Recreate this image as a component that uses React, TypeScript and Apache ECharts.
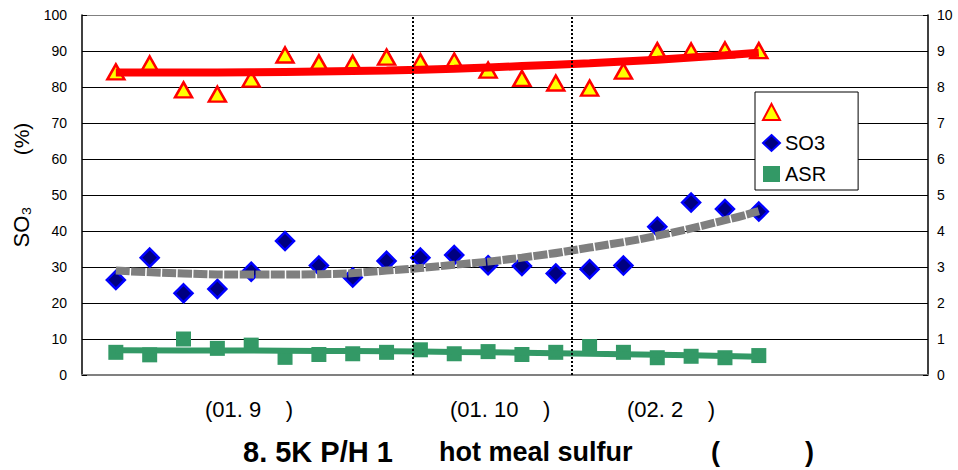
import React, { useEffect, useRef } from "react";
import * as echarts from "echarts";

// sample positions along the x axis (axis runs 0..25)
const sampleIndex = [1, 2, 3, 4, 5, 6, 7, 8, 9, 10, 11, 12, 13, 14, 15, 16, 17, 18, 19, 20];
const triangleValues = [84.2, 86.4, 79.2, 78.0, 82.2, 88.9, 86.7, 86.6, 88.3, 87.0, 87.2, 84.7, 82.4, 81.1, 79.7, 84.4, 90.1, 90.0, 90.3, 90.1];
const so3Values = [26.4, 32.6, 22.7, 23.9, 28.7, 37.2, 30.4, 27.1, 31.7, 32.6, 33.3, 30.5, 30.3, 28.2, 29.4, 30.4, 41.2, 47.9, 46.1, 45.4];
const asrValues = [0.63, 0.56, 1.0, 0.74, 0.83, 0.49, 0.57, 0.59, 0.63, 0.7, 0.59, 0.65, 0.57, 0.63, 0.79, 0.63, 0.48, 0.52, 0.48, 0.54];

// trend lines
const trendIndex = [1, 3, 5, 7, 9, 11, 13, 15, 17, 19, 20];
const triangleTrend = [84.0, 84.0, 84.1, 84.3, 84.6, 85.1, 85.8, 86.6, 87.6, 88.8, 89.5];
const so3Trend = [29.0, 28.2, 27.9, 28.0, 29.0, 30.6, 32.6, 35.4, 38.7, 43.0, 45.5];
const asrTrend = [0.69, 0.68, 0.68, 0.67, 0.66, 0.64, 0.62, 0.59, 0.56, 0.53, 0.51];

// period dividers
const dividers = [9.78, 14.46];
const periodLabels = ["(01. 9    )", "(01. 10    )", "(02. 2    )"];
const leftTicks = [0, 100, 10];
const rightTicks = [0, 10, 1];

const FONT = "Liberation Sans, Arial, sans-serif";

export default function App() {
  const ref = useRef<HTMLDivElement>(null);
  useEffect(() => {
    document.body.style.margin = "0";
    if (!ref.current) return;
    const chart = echarts.init(ref.current, undefined, { renderer: "svg" });
    const pair = (xs: number[], ys: number[]) => xs.map((x, i) => [x, ys[i]]);
    const splitColors = ["#808080"];
    for (let i = 0; i < 9; i++) splitColors.push("#000000");
    splitColors.push("#808080");

    const txt = (text: string, x: number, y: number, size: number, bold = false, spacing = 0) => ({
      type: "text",
      x,
      y,
      style: {
        text,
        fontSize: size,
        fontWeight: bold ? "bold" : "normal",
        fontFamily: FONT,
        fill: "#000",
        align: "left",
        verticalAlign: "middle",
      },
    });

    chart.setOption({
      animation: false,
      backgroundColor: "#ffffff",
      textStyle: { fontFamily: FONT },
      grid: { left: 82, right: 30, top: 15, bottom: 95, containLabel: false },
      legend: {
        orient: "vertical",
        left: 755,
        top: 92,
        padding: [10, 32, 6, 7],
        itemGap: 11,
        itemWidth: 17,
        itemHeight: 16,
        borderColor: "#000",
        borderWidth: 1,
        backgroundColor: "#fff",
        data: [" ", "SO3", "ASR"],
        textStyle: { fontSize: 20, color: "#000", fontFamily: FONT },
      },
      xAxis: {
        type: "value",
        min: 0,
        max: 25,
        axisLabel: { show: false },
        axisTick: { show: false },
        splitLine: { show: false },
        axisLine: { show: true, lineStyle: { color: "#808080", width: 2 } },
      },
      yAxis: [
        {
          type: "value",
          min: leftTicks[0],
          max: leftTicks[1],
          interval: leftTicks[2],
          axisLine: { show: true, lineStyle: { color: "#000", width: 1.5 } },
          axisTick: { show: true, inside: true, length: 5, lineStyle: { color: "#000" } },
          axisLabel: { color: "#000", fontSize: 14, margin: 15, fontFamily: FONT },
          splitLine: { show: true, lineStyle: { color: splitColors, width: 1 } },
        },
        {
          type: "value",
          min: rightTicks[0],
          max: rightTicks[1],
          interval: rightTicks[2],
          position: "right",
          axisLine: { show: true, lineStyle: { color: "#000", width: 1.5 } },
          axisTick: { show: true, inside: true, length: 5, lineStyle: { color: "#000" } },
          axisLabel: { color: "#000", fontSize: 14, margin: 9, fontFamily: FONT },
          splitLine: { show: false },
        },
      ],
      series: [
        {
          name: " ",
          type: "scatter",
          yAxisIndex: 0,
          symbol: "triangle",
          symbolSize: [17, 15],
          itemStyle: { color: "#ffff00", borderColor: "#ff0000", borderWidth: 2.5, opacity: 1 },
          data: pair(sampleIndex, triangleValues),
          z: 3,
          markLine: {
            silent: true,
            symbol: "none",
            label: { show: false },
            lineStyle: { color: "#000", type: [2, 2], width: 2 },
            data: dividers.map((d) => ({ xAxis: d })),
          },
        },
        {
          name: "SO3",
          type: "scatter",
          yAxisIndex: 0,
          symbol: "diamond",
          symbolSize: 18,
          itemStyle: { color: "#000080", borderColor: "#0000ff", borderWidth: 2.5, opacity: 1 },
          data: pair(sampleIndex, so3Values),
          z: 3,
        },
        {
          name: "ASR",
          type: "scatter",
          yAxisIndex: 1,
          symbol: "rect",
          symbolSize: 15,
          itemStyle: { color: "#339966", opacity: 1 },
          data: pair(sampleIndex, asrValues),
          z: 3,
        },
        {
          name: "tri-trend",
          type: "line",
          yAxisIndex: 0,
          smooth: true,
          showSymbol: false,
          lineStyle: { color: "#ff0000", width: 8 },
          data: pair(trendIndex, triangleTrend),
          z: 4,
        },
        {
          name: "so3-trend",
          type: "line",
          yAxisIndex: 0,
          smooth: true,
          showSymbol: false,
          lineStyle: { color: "#7f7f7f", width: 8, type: [14, 1.5] },
          data: pair(trendIndex, so3Trend),
          z: 4,
        },
        {
          name: "asr-trend",
          type: "line",
          yAxisIndex: 1,
          smooth: true,
          showSymbol: false,
          lineStyle: { color: "#339966", width: 6 },
          data: pair(trendIndex, asrTrend),
          z: 4,
        },
      ],
      graphic: [
        {
          type: "text",
          x: 21,
          y: 139,
          rotation: Math.PI / 2,
          style: { text: "(%)", fontSize: 21, fontFamily: FONT, fill: "#000", align: "center", verticalAlign: "middle" },
        },
        {
          type: "text",
          x: 21,
          y: 227,
          rotation: Math.PI / 2,
          style: { text: "SO₃", fontSize: 22, fontFamily: FONT, fill: "#000", align: "center", verticalAlign: "middle" },
        },
        txt(periodLabels[0], 205, 409, 22),
        txt(periodLabels[1], 450, 409, 22),
        txt(periodLabels[2], 627, 409, 22),
        txt("8. 5K P/H 1", 243, 452, 29, true),
        txt("hot meal sulfur", 439, 452, 27, true),
        txt("(", 711, 452, 27, true),
        txt(")", 805, 452, 27, true),
      ],
    });
    return () => chart.dispose();
  }, []);
  return <div ref={ref} style={{ width: 958, height: 470 }} />;
}
